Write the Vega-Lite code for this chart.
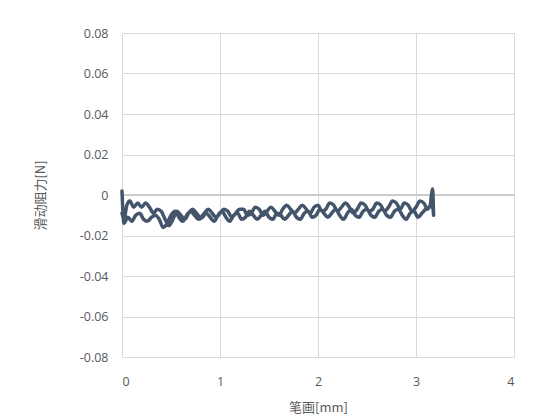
{
  "$schema": "https://vega.github.io/schema/vega-lite/v6.json",
  "autosize": "none",
  "width": 392,
  "height": 324,
  "padding": {"left": 122, "top": 33, "right": 31, "bottom": 62},
  "background": "white",
  "config": {"view": {"stroke": null}},
  "layer": [
    {
      "data": {"values": [{"y": 0}]},
      "mark": {"type": "rule", "color": "#bfbfbf", "strokeWidth": 1.3},
      "encoding": {"y": {"field": "y", "type": "quantitative", "scale": {"domain": [-0.08, 0.08]}}}
    },
    {
      "data": {"values": [
{"i":0,"x":0.00,"y":0.002},{"i":1,"x":0.02,"y":-0.014},{"i":2,"x":0.06,"y":-0.011},{"i":3,"x":0.10,"y":-0.013},{"i":4,"x":0.14,"y":-0.010},{"i":5,"x":0.18,"y":-0.009},{"i":6,"x":0.22,"y":-0.012},{"i":7,"x":0.26,"y":-0.013},{"i":8,"x":0.30,"y":-0.011},{"i":9,"x":0.34,"y":-0.010},{"i":10,"x":0.38,"y":-0.012},{"i":11,"x":0.42,"y":-0.016},{"i":12,"x":0.46,"y":-0.014},{"i":13,"x":0.50,"y":-0.010},{"i":14,"x":0.54,"y":-0.008},{"i":15,"x":0.58,"y":-0.011},{"i":16,"x":0.62,"y":-0.013},{"i":17,"x":0.66,"y":-0.010},{"i":18,"x":0.70,"y":-0.008},{"i":19,"x":0.74,"y":-0.010},{"i":20,"x":0.78,"y":-0.012},{"i":21,"x":0.82,"y":-0.011},{"i":22,"x":0.86,"y":-0.009},{"i":23,"x":0.90,"y":-0.011},{"i":24,"x":0.94,"y":-0.013},{"i":25,"x":0.98,"y":-0.010},{"i":26,"x":1.02,"y":-0.008},{"i":27,"x":1.06,"y":-0.011},{"i":28,"x":1.10,"y":-0.013},{"i":29,"x":1.14,"y":-0.010},{"i":30,"x":1.18,"y":-0.009},{"i":31,"x":1.22,"y":-0.012},{"i":32,"x":1.26,"y":-0.011},{"i":33,"x":1.30,"y":-0.008},{"i":34,"x":1.34,"y":-0.010},{"i":35,"x":1.38,"y":-0.012},{"i":36,"x":1.42,"y":-0.010},{"i":37,"x":1.46,"y":-0.008},{"i":38,"x":1.50,"y":-0.011},{"i":39,"x":1.54,"y":-0.012},{"i":40,"x":1.58,"y":-0.009},{"i":41,"x":1.62,"y":-0.010},{"i":42,"x":1.66,"y":-0.012},{"i":43,"x":1.70,"y":-0.010},{"i":44,"x":1.74,"y":-0.008},{"i":45,"x":1.78,"y":-0.011},{"i":46,"x":1.82,"y":-0.012},{"i":47,"x":1.86,"y":-0.009},{"i":48,"x":1.90,"y":-0.008},{"i":49,"x":1.94,"y":-0.011},{"i":50,"x":1.98,"y":-0.010},{"i":51,"x":2.02,"y":-0.007},{"i":52,"x":2.06,"y":-0.009},{"i":53,"x":2.10,"y":-0.011},{"i":54,"x":2.14,"y":-0.009},{"i":55,"x":2.18,"y":-0.007},{"i":56,"x":2.22,"y":-0.010},{"i":57,"x":2.26,"y":-0.012},{"i":58,"x":2.30,"y":-0.009},{"i":59,"x":2.34,"y":-0.007},{"i":60,"x":2.38,"y":-0.010},{"i":61,"x":2.42,"y":-0.011},{"i":62,"x":2.46,"y":-0.008},{"i":63,"x":2.50,"y":-0.007},{"i":64,"x":2.54,"y":-0.010},{"i":65,"x":2.58,"y":-0.011},{"i":66,"x":2.62,"y":-0.008},{"i":67,"x":2.66,"y":-0.007},{"i":68,"x":2.70,"y":-0.010},{"i":69,"x":2.74,"y":-0.011},{"i":70,"x":2.78,"y":-0.008},{"i":71,"x":2.82,"y":-0.007},{"i":72,"x":2.86,"y":-0.010},{"i":73,"x":2.90,"y":-0.012},{"i":74,"x":2.94,"y":-0.009},{"i":75,"x":2.98,"y":-0.008},{"i":76,"x":3.02,"y":-0.011},{"i":77,"x":3.06,"y":-0.009},{"i":78,"x":3.10,"y":-0.007},{"i":79,"x":3.14,"y":-0.006},{"i":80,"x":3.17,"y":0.003},{"i":81,"x":3.18,"y":-0.010},
{"i":82,"x":3.16,"y":-0.004},{"i":83,"x":3.12,"y":-0.007},{"i":84,"x":3.08,"y":-0.004},{"i":85,"x":3.04,"y":-0.003},{"i":86,"x":3.00,"y":-0.006},{"i":87,"x":2.96,"y":-0.008},{"i":88,"x":2.92,"y":-0.005},{"i":89,"x":2.88,"y":-0.004},{"i":90,"x":2.84,"y":-0.007},{"i":91,"x":2.80,"y":-0.004},{"i":92,"x":2.76,"y":-0.003},{"i":93,"x":2.72,"y":-0.006},{"i":94,"x":2.68,"y":-0.008},{"i":95,"x":2.64,"y":-0.005},{"i":96,"x":2.60,"y":-0.004},{"i":97,"x":2.56,"y":-0.007},{"i":98,"x":2.52,"y":-0.008},{"i":99,"x":2.48,"y":-0.005},{"i":100,"x":2.44,"y":-0.004},{"i":101,"x":2.40,"y":-0.007},{"i":102,"x":2.36,"y":-0.009},{"i":103,"x":2.32,"y":-0.006},{"i":104,"x":2.28,"y":-0.004},{"i":105,"x":2.24,"y":-0.006},{"i":106,"x":2.20,"y":-0.008},{"i":107,"x":2.16,"y":-0.005},{"i":108,"x":2.12,"y":-0.004},{"i":109,"x":2.08,"y":-0.007},{"i":110,"x":2.04,"y":-0.008},{"i":111,"x":2.00,"y":-0.005},{"i":112,"x":1.96,"y":-0.006},{"i":113,"x":1.92,"y":-0.009},{"i":114,"x":1.88,"y":-0.007},{"i":115,"x":1.84,"y":-0.005},{"i":116,"x":1.80,"y":-0.007},{"i":117,"x":1.76,"y":-0.009},{"i":118,"x":1.72,"y":-0.007},{"i":119,"x":1.68,"y":-0.005},{"i":120,"x":1.64,"y":-0.007},{"i":121,"x":1.60,"y":-0.010},{"i":122,"x":1.56,"y":-0.008},{"i":123,"x":1.52,"y":-0.006},{"i":124,"x":1.48,"y":-0.008},{"i":125,"x":1.44,"y":-0.010},{"i":126,"x":1.40,"y":-0.007},{"i":127,"x":1.36,"y":-0.006},{"i":128,"x":1.32,"y":-0.009},{"i":129,"x":1.28,"y":-0.010},{"i":130,"x":1.24,"y":-0.007},{"i":131,"x":1.20,"y":-0.007},{"i":132,"x":1.16,"y":-0.009},{"i":133,"x":1.12,"y":-0.011},{"i":134,"x":1.08,"y":-0.008},{"i":135,"x":1.04,"y":-0.007},{"i":136,"x":1.00,"y":-0.009},{"i":137,"x":0.96,"y":-0.011},{"i":138,"x":0.92,"y":-0.009},{"i":139,"x":0.88,"y":-0.007},{"i":140,"x":0.84,"y":-0.009},{"i":141,"x":0.80,"y":-0.011},{"i":142,"x":0.76,"y":-0.009},{"i":143,"x":0.72,"y":-0.007},{"i":144,"x":0.68,"y":-0.009},{"i":145,"x":0.64,"y":-0.012},{"i":146,"x":0.60,"y":-0.010},{"i":147,"x":0.56,"y":-0.008},{"i":148,"x":0.52,"y":-0.012},{"i":149,"x":0.48,"y":-0.015},{"i":150,"x":0.44,"y":-0.012},{"i":151,"x":0.40,"y":-0.008},{"i":152,"x":0.36,"y":-0.007},{"i":153,"x":0.32,"y":-0.009},{"i":154,"x":0.28,"y":-0.006},{"i":155,"x":0.24,"y":-0.004},{"i":156,"x":0.20,"y":-0.006},{"i":157,"x":0.16,"y":-0.004},{"i":158,"x":0.12,"y":-0.006},{"i":159,"x":0.08,"y":-0.003},{"i":160,"x":0.05,"y":-0.005},{"i":161,"x":0.02,"y":-0.012},{"i":162,"x":0.00,"y":-0.009}
      ]},
      "mark": {"type": "line", "color": "#44546A", "strokeWidth": 3.5, "strokeJoin": "round", "strokeCap": "round", "interpolate": "monotone"},
      "encoding": {
        "x": {
          "field": "x", "type": "quantitative",
          "scale": {"domain": [0, 4], "nice": false},
          "axis": {
            "values": [0, 1, 2, 3, 4],
            "title": "笔画[mm]",
            "titleFont": "Noto Sans CJK JP", "titleFontSize": 13, "titleFontWeight": "normal", "titleColor": "#595959", "titlePadding": 14,
            "labelFont": "Open Sans", "labelFontSize": 12.5, "labelColor": "#595959", "labelPadding": 18,
            "domain": false, "ticks": false,
            "grid": true, "gridColor": "#d9d9d9", "gridWidth": 1
          }
        },
        "y": {
          "field": "y", "type": "quantitative",
          "scale": {"domain": [-0.08, 0.08], "nice": false, "zero": false},
          "axis": {
            "values": [-0.08, -0.06, -0.04, -0.02, 0, 0.02, 0.04, 0.06, 0.08],
            "labelExpr": "datum.value == 0 ? '0' : replace(format(datum.value, '.2f'), '\u2212', '-')",
            "title": "滑动阻力[N]",
            "titleFont": "Noto Sans CJK JP", "titleFontSize": 13, "titleFontWeight": "normal", "titleColor": "#595959", "titlePadding": 32,
            "labelFont": "Open Sans", "labelFontSize": 12.5, "labelColor": "#595959", "labelPadding": 14,
            "domain": false, "ticks": false,
            "grid": true, "gridColor": "#d9d9d9", "gridWidth": 1
          }
        },
        "order": {"field": "i", "type": "quantitative"}
      }
    }
  ]
}
